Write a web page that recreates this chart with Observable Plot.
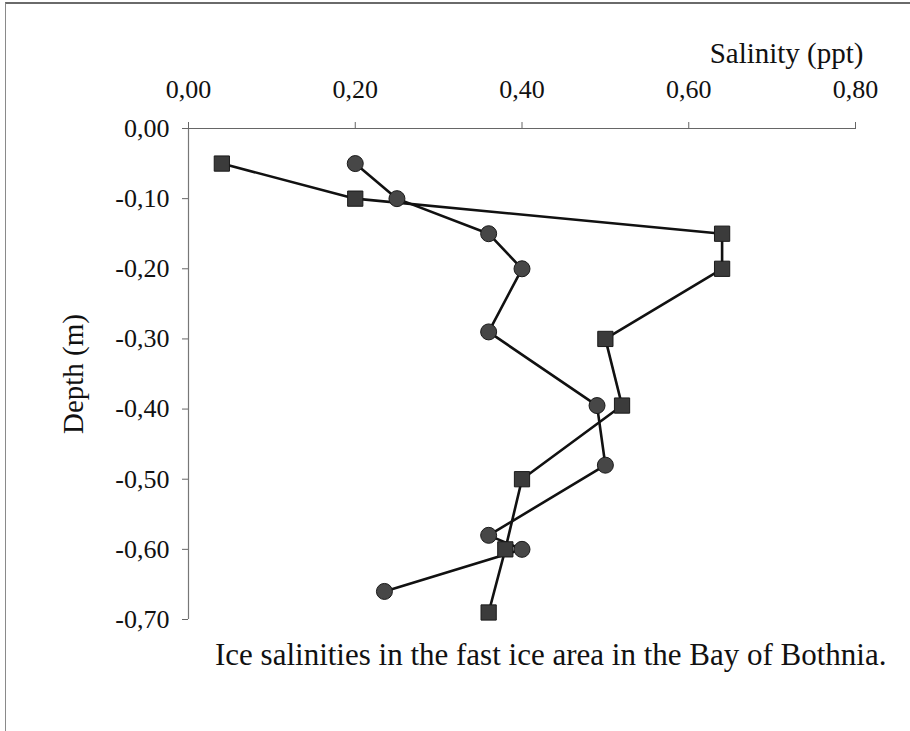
<!DOCTYPE html>
<html>
<head>
<meta charset="utf-8">
<script src="https://cdn.jsdelivr.net/npm/d3@7"></script>
<script src="https://cdn.jsdelivr.net/npm/@observablehq/plot@0.6"></script>
<style>
  html, body { margin: 0; padding: 0; background: #fff; }
  #page { position: relative; width: 910px; height: 731px; overflow: hidden; font-family: "Liberation Serif", "DejaVu Serif", serif; }
  #frame { position: absolute; left: 5px; top: 2px; right: -2px; bottom: -2px; border-top: 2px solid #6a6a6a; border-left: 1px solid #8a8a8a; }
  #chart { position: absolute; left: 0; top: 0; }
  #caption { position: absolute; left: 215px; top: 637px; font-size: 31px; color: #111; white-space: nowrap; }
</style>
</head>
<body>
<div id="page">
  <div id="frame"></div>
  <div id="chart"></div>
  <div id="caption">Ice salinities in the fast ice area in the Bay of Bothnia.</div>
</div>
<script>
// Profile 1 (squares): salinity (ppt) by depth (m)
const depthSquares = [-0.05, -0.10, -0.15, -0.20, -0.30, -0.395, -0.50, -0.60, -0.69];
const salinitySquares = [0.04, 0.20, 0.64, 0.64, 0.50, 0.52, 0.40, 0.38, 0.36];

// Profile 2 (circles): salinity (ppt) by depth (m)
const depthCircles = [-0.05, -0.10, -0.15, -0.20, -0.29, -0.395, -0.48, -0.58, -0.60, -0.66];
const salinityCircles = [0.20, 0.25, 0.36, 0.40, 0.36, 0.49, 0.50, 0.36, 0.40, 0.235];

// Axis ticks
const salinityTicks = [0, 0.2, 0.4, 0.6, 0.8];
const depthTicks = [0, -0.1, -0.2, -0.3, -0.4, -0.5, -0.6, -0.7];

const xLabel = "Salinity (ppt)";
const yLabel = "Depth (m)";

const squares = depthSquares.map((d, i) => ({depth: d, salinity: salinitySquares[i]}));
const circles = depthCircles.map((d, i) => ({depth: d, salinity: salinityCircles[i]}));

const comma = (v) => d3.format(".2f")(v).replace(".", ",").replace("−", "-");

const lineStyle = {x: "salinity", y: "depth", stroke: "#111", strokeWidth: 2.6, curve: "linear"};

const chart = Plot.plot({
  width: 910,
  height: 640,
  marginTop: 128,
  marginLeft: 188,
  marginRight: 55,
  marginBottom: 21,
  style: {fontFamily: "Liberation Serif, serif", fontSize: "26px", color: "#111", background: "transparent", overflow: "visible"},
  x: {domain: [0, 0.8], axis: null},
  y: {domain: [-0.7, 0], axis: null},
  marks: [
    // axis lines
    Plot.ruleY([0], {x1: 0, x2: 0.8, stroke: "#666", strokeWidth: 1.2}),
    Plot.ruleX([0], {y1: -0.7, y2: 0, stroke: "#777", strokeWidth: 1.2}),
    Plot.axisX(salinityTicks, {anchor: "top", tickSize: 7, tickPadding: 24, tickFormat: comma, stroke: "#666", fill: "#111", label: null, fontSize: 26}),
    Plot.axisY(depthTicks, {anchor: "left", tickSize: 6, tickPadding: 13, tickFormat: comma, stroke: "#666", fill: "#111", label: null, fontSize: 26}),
    Plot.text([xLabel], {frameAnchor: "top-right", dx: 8, dy: -66, fontSize: 29, fill: "#111", textAnchor: "end", lineAnchor: "bottom"}),
    Plot.text([yLabel], {frameAnchor: "left", dx: -115, rotate: -90, fontSize: 29, fill: "#111", textAnchor: "middle"}),
    // profiles
    Plot.line(squares, lineStyle),
    Plot.line(circles, lineStyle),
    Plot.dot(squares, {x: "salinity", y: "depth", symbol: "square", r: 8.6, fill: "#3b3b3b", stroke: "#1a1a1a", strokeWidth: 1}),
    Plot.dot(circles, {x: "salinity", y: "depth", symbol: "circle", r: 8, fill: "#474747", stroke: "#1a1a1a", strokeWidth: 1})
  ]
});
document.getElementById("chart").appendChild(chart);
</script>
</body>
</html>
